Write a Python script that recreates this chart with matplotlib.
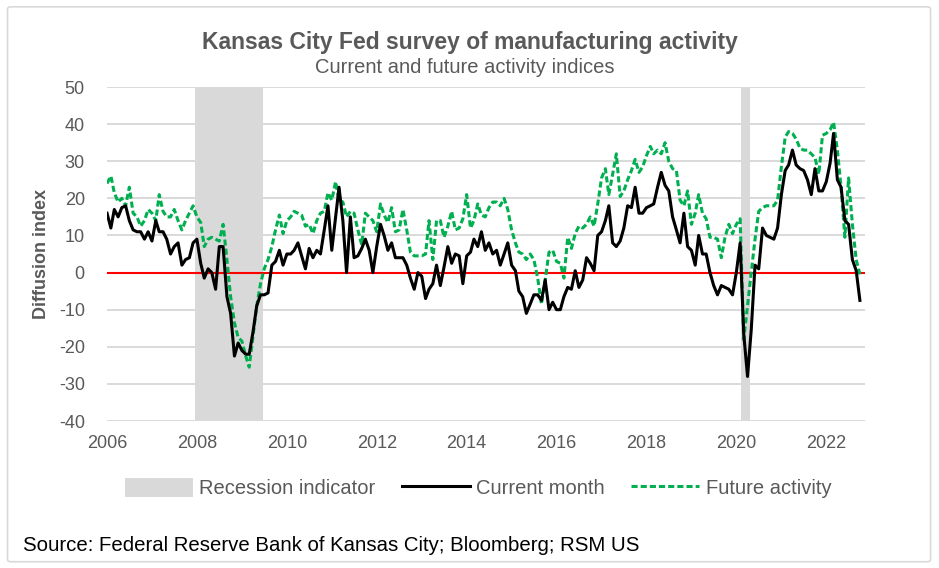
import numpy as np
import pandas as pd
import matplotlib
matplotlib.use("Agg")
import matplotlib.pyplot as plt
import matplotlib.dates as mdates
from matplotlib.patches import FancyBboxPatch, Patch
from matplotlib.lines import Line2D

plt.rcParams['font.family'] = ['Liberation Sans', 'DejaVu Sans']
plt.rcParams['axes.unicode_minus'] = False

# monthly, Jan 2006 .. Oct 2022
months = pd.date_range("2006-01-01", "2022-10-01", freq="MS")

current = [
    16, 12, 17, 15, 17.5, 18, 14, 11.5, 11, 11, 9, 11,            # 2006
    8.5, 14, 11, 11, 9, 5, 7, 8, 2, 3.5, 4, 8,                    # 2007
    9, 2.5, -1.5, 1, 0, -4.5, 7, 7, -6.5, -11, -22.5, -19,        # 2008
    -21, -22, -22, -16, -9, -6, -6, -5.5, 2, 3, 6, 2,             # 2009
    5, 5, 6, 8, 4.5, 1, 6.5, 4, 6, 5, 11.5, 18,                   # 2010
    6, 15, 23, 14, 0, 15, 4, 4.5, 6.5, 9, 6, 0,                   # 2011
    7, 13, 10, 6, 8, 4, 4, 4, 2, -1.5, -4.5, 0,                   # 2012
    -1, -7, -4.5, -3, 2, -3.5, 1.5, 7, 2.5, 5, 4.5, -3,           # 2013
    4.5, 5.5, 9, 7, 11, 6, 8, 5, 6, 2, 5, 8,                      # 2014
    2, 0.5, -5, -6.5, -11, -8.5, -6, -6, -7.5, -2, -10, -8,       # 2015
    -10, -10, -6.5, -4, -4.5, 0.5, -4, -2, 4, 2.5, 0.5, 10,       # 2016
    11, 14, 18, 8, 7, 8.5, 12, 18, 17.5, 23, 16, 16,              # 2017
    17.5, 18, 18.5, 23, 27, 23.5, 22, 15, 11.5, 8, 16, 7,         # 2018
    6, 2, 10, 5, 5, 0, -3.5, -6, -3.5, -4, -4.5, -6,              # 2019
    0, 8, -16.5, -28, -15.5, 2, 1, 12, 10, 9.5, 9, 12,            # 2020
    21, 27.5, 29, 33, 29, 28, 27.5, 25, 21, 28, 22, 22,           # 2021
    24.5, 29.5, 37.5, 25, 23, 14, 13, 3.5, 0.5, -7.5,             # 2022
]

future = [
    24, 26, 21.5, 19, 20, 18, 23, 16, 15, 12.5, 14, 17,
    16, 14, 21, 16.5, 15, 15, 17, 14, 11.5, 14, 16, 18,
    15, 13.5, 7, 9, 9.5, 9, 8.5, 13, 3.5, -6.5, -13.5, -17.5,
    -18.5, -22.5, -25.5, -17, -9, -3, 1, 3.5, 7, 11.5, 15.5, 10.5,
    14, 15, 16.5, 16, 15.5, 12.5, 13, 10.5, 14, 16, 16.5, 21.5,
    19.5, 24.5, 19.5, 19, 15, 16.5, 16, 11.5, 7.5, 16, 15, 14,
    11, 18.5, 15.5, 13.5, 17.5, 11, 11.5, 17, 11.5, 5.5, 4.5, 4.5,
    4.5, 5, 14, 3.5, 14, 14, 9.5, 12.5, 16.5, 11.5, 12, 14.5,
    21, 12, 14, 18.5, 15.5, 15, 17.5, 19, 19, 18, 20, 17,
    11.5, 8, 5.5, 5, 3.5, 5, 3.5, -1.5, -8.5, -2, 5.5, 6,
    3, 2.5, -1.5, 9.5, 6.5, 10.5, 12.5, 12, 13, 15, 12.5, 18.5,
    25.5, 28, 21, 26.5, 32, 20.5, 22, 25, 27.5, 30.5, 27, 28.5,
    31.5, 34, 32, 33, 32, 35, 30, 28, 27.5, 19.5, 18, 22,
    13, 16, 21, 16, 14.5, 9.5, 9.5, 9, 4, 9.5, 13, 10.5,
    13, 14.5, -18, -9, 0, 9, 16.5, 17.5, 18, 18, 18, 19.5,
    28.5, 36.5, 38, 37.5, 36, 33.5, 33, 33, 32, 31, 26.5, 37,
    37.5, 38.5, 40.5, 33, 23, 9.5, 25.5, 13, 3.5, -0.5,
]

recessions = [("2007-12-15", "2009-06-25"), ("2020-02-05", "2020-04-25")]

grey_txt = "#595959"
fig = plt.figure(figsize=(9.39, 5.68), dpi=100)
ax = fig.add_axes([0.114, 0.2588, 0.807, 0.588])

for start, end in recessions:
    ax.axvspan(pd.Timestamp(start), pd.Timestamp(end), color="#d9d9d9", lw=0, zorder=1)

ax.set_ylim(-40, 50)
ax.set_yticks(np.arange(-40, 51, 10))
ax.yaxis.grid(True, color="#d9d9d9", lw=1.4, zorder=0)
ax.set_axisbelow(True)
ax.axhline(0, color="#ff0000", lw=1.5, zorder=2)

ax.plot(months, current, color="black", lw=2.2, zorder=4)
ax.plot(months, future, color="#00b050", lw=2.2, dashes=(2, 1), zorder=3)

ax.set_xlim(pd.Timestamp("2006-01-01"), pd.Timestamp("2022-11-10"))
ax.xaxis.set_major_locator(mdates.YearLocator(2))
ax.xaxis.set_major_formatter(mdates.DateFormatter("%Y"))
ax.tick_params(length=0, labelsize=13, colors=grey_txt)
ax.tick_params(axis="x", pad=10)
ax.tick_params(axis="y", pad=16)
for s in ax.spines.values():
    s.set_visible(False)
ax.set_ylabel("Diffusion index", fontsize=13, fontweight="bold", color=grey_txt, labelpad=6)

fig.text(0.5, 0.925, "Kansas City Fed survey of manufacturing activity", ha="center", va="center",
         fontsize=16.5, fontweight="bold", color=grey_txt)
fig.text(0.495, 0.882, "Current and future activity indices", ha="center", va="center",
         fontsize=14.5, color=grey_txt)

handles = [Patch(facecolor="#d9d9d9", edgecolor="none"),
           Line2D([], [], color="black", lw=2.2),
           Line2D([], [], color="#00b050", lw=2.2, dashes=(2, 1))]
labels = ["Recession indicator", "Current month", "Future activity"]
fig.legend(handles, labels, loc="center", bbox_to_anchor=(0.509, 0.141), ncol=3, frameon=False,
           fontsize=14.5, labelcolor=grey_txt, handlelength=3.4, handleheight=1.1,
           columnspacing=1.3, handletextpad=0.3)

fig.text(0.0245, 0.04, "Source: Federal Reserve Bank of Kansas City; Bloomberg; RSM US",
         ha="left", va="center", fontsize=14.7, color="black")

frame = FancyBboxPatch((0.008, 0.011), 0.983, 0.977, boxstyle="round,pad=0,rounding_size=0.004",
                       transform=fig.transFigure, facecolor="none", edgecolor="#d9d9d9", lw=1.2)
fig.patches.append(frame)

fig.savefig("out.png", dpi=100)
